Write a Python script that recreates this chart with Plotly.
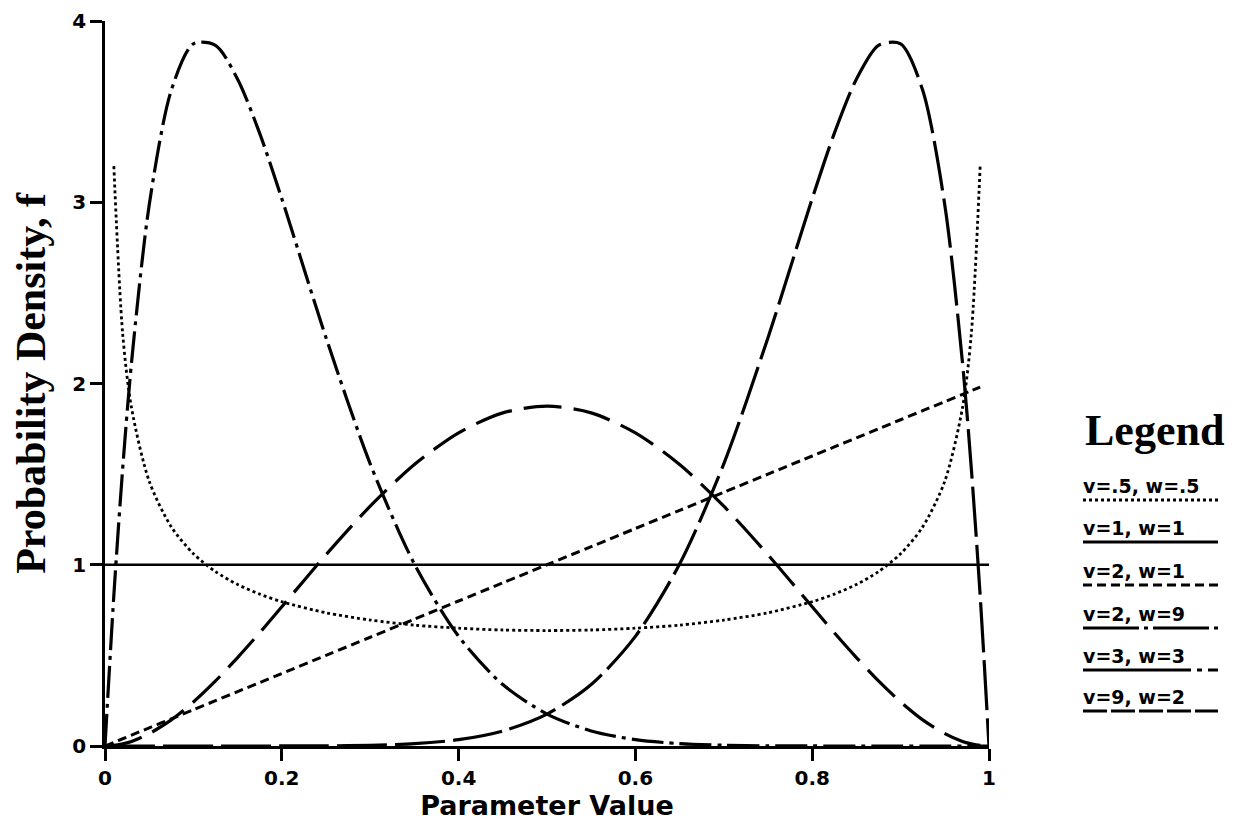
import plotly.graph_objects as go

# Shared x grid (parameter value)
x_vals = [0, 0.01, 0.02, 0.03, 0.05, 0.075, 0.1, 0.125, 0.15, 0.175, 0.2, 0.25, 0.3, 0.35,
          0.4, 0.45, 0.5, 0.55, 0.6, 0.65, 0.7, 0.75, 0.8, 0.825, 0.85, 0.875, 0.9, 0.925,
          0.95, 0.97, 0.98, 0.99, 1.0]

# Densities
y_v05_w05 = [None, 3.199, 2.274, 1.866, 1.461, 1.209, 1.061, 0.962, 0.891, 0.838, 0.796, 0.735,
             0.695, 0.667, 0.650, 0.640, 0.637, 0.640, 0.650, 0.667, 0.695, 0.735, 0.796, 0.838,
             0.891, 0.962, 1.061, 1.209, 1.461, 1.866, 2.274, 3.199, None]
y_v1_w1 = [1.0] * 33
y_v2_w1 = [0, 0.02, 0.04, 0.06, 0.10, 0.15, 0.20, 0.25, 0.30, 0.35, 0.40, 0.50, 0.60, 0.70,
           0.80, 0.90, 1.00, 1.10, 1.20, 1.30, 1.40, 1.50, 1.60, 1.65, 1.70, 1.75, 1.80, 1.85,
           1.90, 1.94, 1.96, 1.98, None]
y_v2_w9 = [0, 0.831, 1.531, 2.116, 2.985, 3.618, 3.874, 3.866, 3.679, 3.380, 3.020, 2.253,
           1.557, 1.004, 0.605, 0.339, 0.176, 0.083, 0.035, 0.013, 0.004, 0.001, 0.0002, 0,
           0, 0, 0, 0, 0, 0, 0, 0, 0]
y_v3_w3 = [0, 0.003, 0.012, 0.025, 0.068, 0.144, 0.243, 0.359, 0.488, 0.625, 0.768, 1.055,
           1.323, 1.553, 1.728, 1.838, 1.875, 1.838, 1.728, 1.553, 1.323, 1.055, 0.768, 0.625,
           0.488, 0.359, 0.243, 0.144, 0.068, 0.025, 0.012, 0.003, 0]
y_v9_w2 = [0, 0, 0, 0, 0, 0, 0, 0, 0, 0, 0.0002, 0.001, 0.004, 0.013, 0.035, 0.083, 0.176,
           0.339, 0.605, 1.004, 1.557, 2.253, 3.020, 3.380, 3.679, 3.866, 3.874, 3.618, 2.985,
           2.116, 1.531, 0.831, 0]

series_labels = ["v=.5, w=.5", "v=1, w=1", "v=2, w=1", "v=2, w=9", "v=3, w=3", "v=9, w=2"]
series_values = [y_v05_w05, y_v1_w1, y_v2_w1, y_v2_w9, y_v3_w3, y_v9_w2]
series_dash = ["dot", "solid", "9px,5px", "32px,6px,4px,6px", "38px,12px", "50px,8px"]
legend_dash = ["dot", "solid", "9px,5px", "56px,5px,4px,5px", "108px,6px,5px,6px", "24px,4px"]
series_width = [2.8, 2.6, 3, 3.2, 3.2, 3.2]

x_ticks = [0, 0.2, 0.4, 0.6, 0.8, 1]
x_tick_text = ["0", "0.2", "0.4", "0.6", "0.8", "1"]
y_ticks = [0, 1, 2, 3, 4]

fig = go.Figure()
for lab, ys, dash, w in zip(series_labels, series_values, series_dash, series_width):
    fig.add_trace(go.Scatter(x=x_vals, y=ys, mode="lines", name=lab, connectgaps=False,
                             line=dict(color="black", width=w, dash=dash, shape="spline",
                                       smoothing=0.8),
                             showlegend=False))

SANS = "DejaVu Sans, Liberation Sans, Arial"
SERIF = "Liberation Serif, DejaVu Serif, serif"
tick_font = dict(family=SANS, size=20, color="black", weight="bold")

fig.update_layout(
    width=1234, height=823,
    paper_bgcolor="white", plot_bgcolor="white",
    margin=dict(l=97, r=253, t=13, b=85, autoexpand=False),
    xaxis=dict(range=[0, 1], tickvals=x_ticks, ticktext=x_tick_text, ticks="outside",
               ticklen=12, tickwidth=2.5, tickcolor="black", showline=True, linecolor="black",
               linewidth=2.5, showgrid=False, zeroline=False, tickfont=tick_font,
               ticklabeloverflow="allow",
               title=dict(text="Parameter Value", standoff=6,
                          font=dict(family=SANS, size=27, color="black", weight="bold"))),
    yaxis=dict(range=[0, 4], tickvals=y_ticks, ticks="outside", ticklen=12, tickwidth=2.5,
               tickcolor="black", showline=True, linecolor="black", linewidth=2.5,
               showgrid=False, zeroline=False, tickfont=tick_font,
               ticklabeloverflow="allow",
               title=dict(text="Probability Density, f", standoff=34,
                          font=dict(family=SERIF, size=42, color="black", weight="bold"))),
)

# Legend block drawn at the right (text with its line sample underneath)
PLOT_TOP, PLOT_BOTTOM = 21, 746

def px_x(p):
    return (p - 105) / 884.0

def px_y(p):
    return (PLOT_BOTTOM - p) / float(PLOT_BOTTOM - PLOT_TOP)

fig.add_annotation(x=px_x(1083), y=px_y(430), xref="paper", yref="paper", text="Legend",
                   showarrow=False, xanchor="left", yanchor="middle",
                   font=dict(family=SERIF, size=44, color="black", weight="bold"))
entry_y = [486, 528, 571, 614, 656, 697]
for lab, dash, ey in zip(series_labels, legend_dash, entry_y):
    fig.add_annotation(x=px_x(1081), y=px_y(ey), xref="paper", yref="paper", text=lab,
                       showarrow=False, xanchor="left", yanchor="middle",
                       font=dict(family=SANS, size=19, color="black", weight="bold"))
    fig.add_shape(type="line", xref="paper", yref="paper", x0=px_x(1083), x1=px_x(1218),
                  y0=px_y(ey + 14), y1=px_y(ey + 14),
                  line=dict(color="black", width=2.8, dash=dash))

fig.write_html("out.html")
